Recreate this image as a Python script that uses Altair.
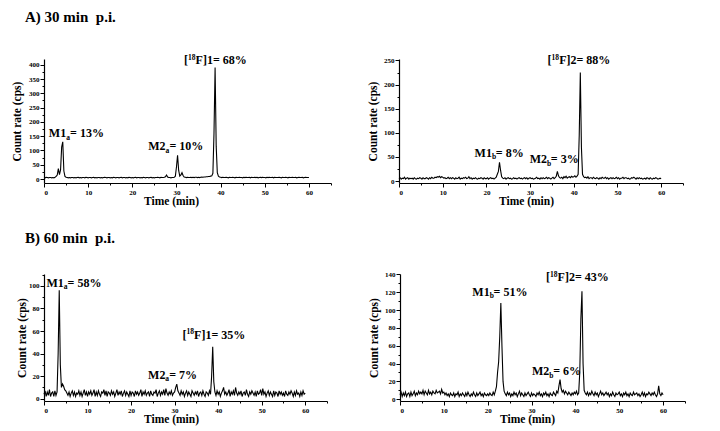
import altair as alt
import pandas as pd

FONT = "Liberation Serif"

# sampling times of the radio-HPLC traces (one reading every 0.25 min, 0-60 min)
TIME = [i / 4 for i in range(241)]

# A) 30 min p.i. -- compound [18F]1 (count rate, cps)
A_LEFT = [
    5, 4, 6, 5,  4, 5, 5, 4,  5, 4, 6, 9,  14, 36, 15, 32,  112, 130, 28, 9,
    6, 5, 4, 5,  4, 5, 5, 4,  5, 4, 5, 6,  4, 5, 4, 5,  5, 4, 6, 5,
    4, 5, 5, 4,  5, 6, 4, 5,  4, 5, 5, 4,  5, 4, 5, 6,  5, 4, 5, 5,
    4, 5, 4, 6,  5, 4, 5, 5,  4, 5, 6, 4,  5, 5, 4, 5,  4, 6, 5, 4,
    5, 4, 5, 6,  4, 5, 5, 4,  5, 4, 6, 5,  4, 5, 5, 4,  5, 6, 4, 5,
    4, 5, 5, 6,  5, 4, 6, 5,  5, 6, 8, 14,  7, 5, 5, 4,  5, 5, 6, 10,
    42, 83, 30, 10,  14, 22, 12, 7,  6, 5, 6, 5,  5, 6, 5, 6,  5, 6, 6, 5,
    6, 5, 6, 7,  6, 7, 7, 8,  8, 9, 9, 10,  11, 20, 160, 390,  115, 22, 10, 7,
    6, 5, 6, 5,  5, 6, 5, 4,  6, 5, 5, 6,  5, 4, 6, 5,  5, 6, 5, 5,
    4, 6, 5, 6,  5, 5, 6, 4,  6, 5, 5, 6,  5, 6, 4, 5,  6, 5, 6, 5,
    5, 4, 6, 5,  6, 5, 5, 6,  4, 6, 5, 5,  5, 6, 5, 4,  6, 5, 5, 6,
    5, 4, 6, 5,  5, 6, 5, 5,  6, 4, 5, 6,  5, 5, 6, 4,  5, 6, 5, 5,
    5,
]
# A) 30 min p.i. -- compound [18F]2
A_RIGHT = [
    5, 7, 4, 6,  5, 8, 4, 6,  7, 4, 6, 5,  6, 4, 7, 5,  4, 6, 5, 7,
    6, 4, 7, 5,  5, 7, 6, 4,  7, 5, 8, 6,  6, 8, 7, 9,  8, 10, 7, 9,
    8, 6, 7, 5,  6, 8, 5, 7,  5, 7, 6, 4,  7, 5, 6, 8,  4, 6, 5, 7,
    6, 8, 5, 6,  9, 5, 7, 4,  6, 5, 7, 5,  4, 6, 5, 7,  6, 4, 7, 5,
    5, 7, 4, 6,  7, 5, 6, 4,  6, 8, 14, 20,  39, 22, 9, 6,  5, 7, 4, 6,
    7, 5, 6, 4,  5, 7, 5, 6,  4, 6, 7, 5,  6, 4, 6, 7,  5, 7, 4, 6,
    7, 5, 6, 4,  5, 6, 8, 5,  6, 4, 7, 5,  7, 5, 6, 8,  5, 7, 6, 4,
    6, 8, 5, 7,  10, 20, 11, 7,  6, 8, 5, 9,  7, 10, 6, 8,  9, 7, 10, 8,
    9, 11, 8, 10,  14, 95, 225, 70,  14, 9, 7, 8,  6, 9, 5, 7,  7, 5, 8, 6,
    5, 7, 6, 4,  7, 5, 8, 6,  6, 8, 5, 7,  4, 6, 7, 5,  7, 5, 6, 8,
    5, 7, 4, 6,  6, 8, 5, 7,  7, 5, 6, 4,  5, 7, 6, 8,  6, 4, 7, 5,
    7, 5, 6, 4,  5, 6, 4, 7,  6, 4, 7, 5,  4, 6, 5, 7,  6, 4, 5, 6,
    5,
]
# B) 60 min p.i. -- compound [18F]1
B_LEFT = [
    4, 7, 2, 6,  3, 8, 2, 5,  6, 2, 7, 3,  6, 40, 96, 30,  10, 13, 11, 8,
    7, 5, 3, 6,  2, 5, 7, 3,  6, 2, 5, 4,  7, 3, 6, 2,  5, 8, 3, 6,
    2, 6, 4, 7,  3, 5, 8, 2,  6, 3, 7, 4,  2, 6, 5, 8,  3, 7, 2, 6,
    5, 3, 7, 4,  6, 2, 5, 8,  3, 6, 4, 7,  2, 5, 7, 3,  6, 4, 2, 7,
    3, 6, 5, 2,  7, 4, 6, 3,  5, 8, 2, 6,  4, 7, 3, 5,  6, 2, 7, 4,
    3, 6, 5, 8,  2, 5, 7, 3,  6, 4, 8, 3,  9, 5, 3, 6,  4, 7, 3, 5,
    6, 10, 13, 7,  5, 3, 7, 4,  6, 2, 5, 7,  3, 6, 4, 2,  7, 5, 3, 6,
    4, 7, 2, 5,  6, 3, 7, 4,  2, 6, 5, 3,  7, 4, 20, 46,  15, 6, 3, 7,
    4, 6, 2, 5,  7, 10, 4, 6,  3, 5, 8, 2,  6, 4, 7, 3,  10, 5, 3, 6,
    4, 7, 2, 5,  6, 3, 8, 4,  2, 6, 4, 7,  5, 3, 6, 2,  7, 4, 5, 8,
    3, 9, 4, 6,  2, 5, 7, 3,  6, 4, 2, 7,  3, 6, 5, 2,  7, 4, 6, 3,
    5, 2, 7, 4,  3, 6, 4, 7,  5, 2, 6, 3,  7, 4, 5, 2,  6, 3, 7, 4,
    5,
]
# B) 60 min p.i. -- compound [18F]2
B_RIGHT = [
    5, 8, 3, 7,  4, 8, 3, 6,  7, 3, 8, 4,  6, 9, 4, 7,  5, 9, 6, 8,
    6, 10, 5, 9,  7, 5, 10, 6,  8, 5, 9, 7,  6, 10, 7, 8,  9, 6, 11, 7,
    8, 5, 7, 4,  6, 3, 7, 5,  4, 7, 3, 6,  5, 8, 3, 6,  4, 7, 5, 3,
    7, 4, 8, 5,  3, 6, 4, 8,  5, 3, 7, 4,  6, 8, 4, 6,  3, 7, 5, 4,
    6, 4, 7, 5,  4, 8, 5, 9,  14, 30, 42, 70,  108, 60, 20, 9,  6, 4, 8, 5,
    7, 3, 6, 4,  8, 5, 7, 3,  6, 9, 4, 7,  5, 3, 7, 4,  6, 8, 5, 3,
    7, 4, 6, 5,  3, 7, 5, 8,  4, 6, 3, 7,  5, 8, 4, 6,  3, 7, 5, 4,
    8, 6, 4, 9,  7, 15, 22, 12,  8, 10, 6, 9,  7, 5, 8, 6,  4, 7, 5, 8,
    6, 9, 5, 7,  30, 90, 121, 40,  10, 7, 5, 8,  4, 7, 5, 9,  6, 4, 8, 5,
    7, 3, 6, 9,  5, 7, 4, 6,  8, 5, 7, 3,  6, 4, 8, 5,  3, 7, 5, 6,
    8, 4, 6, 3,  7, 5, 8, 4,  6, 3, 7, 5,  4, 8, 5, 6,  7, 4, 6, 3,
    5, 8, 4, 7,  3, 6, 5, 8,  6, 4, 7, 5,  8, 5, 3, 6,  15, 6, 4, 7,
    5,
]

# peak labels: anchor (t, cps), text pieces and whether the small part is a subscript or superscript
ANN_A_LEFT = {"t": [1.1, 23.6, 31.7], "cps": [147, 101, 401],
              "pre": ["M1", "M2", "["], "script": ["a", "a", "18"],
              "post": ["= 13%", "= 10%", "F]1= 68%"], "kind": ["sub", "sub", "sup"]}
ANN_A_RIGHT = {"t": [17.3, 29.9, 34.0], "cps": [50, 36.6, 242],
               "pre": ["M1", "M2", "["], "script": ["b", "b", "18"],
               "post": ["= 8%", "= 3%", "F]2= 88%"], "kind": ["sub", "sub", "sup"]}
ANN_B_LEFT = {"t": [0.55, 23.9, 31.8], "cps": [99.4, 17.6, 53.3],
              "pre": ["M1", "M2", "["], "script": ["a", "a", "18"],
              "post": ["= 58%", "= 7%", "F]1= 35%"], "kind": ["sub", "sub", "sup"]}
ANN_B_RIGHT = {"t": [16.5, 30.1, 33.3], "cps": [115.9, 27, 132.6],
               "pre": ["M1", "M2", "["], "script": ["b", "b", "18"],
               "post": ["= 51%", "= 6%", "F]2= 43%"], "kind": ["sub", "sub", "sup"]}

X_TICKS = [0, 5, 10, 15, 20, 25, 30, 35, 40, 45, 50, 55, 60, 65]

FS = 12        # label font size
FS_S = 7.5     # script font size


def panel(values, ann, ydomain, yticks, ylabstep, width, height,
          title=None, title_offset=17, ytitle_x=-26):
    df = pd.DataFrame({"t": TIME, "cps": values})
    xaxis = alt.Axis(
        values=X_TICKS,
        labelExpr="datum.value % 10 === 0 && datum.value <= 60 ? datum.label : ''",
        tickSize={"condition": {"test": "datum.value % 10 === 0", "value": 4}, "value": 2},
        title="Time (min)", titleX=127, titleY=21, titleBaseline="alphabetic",
    )
    yaxis = alt.Axis(
        values=yticks,
        labelExpr=f"datum.value % {ylabstep} === 0 ? datum.label : ''",
        tickSize={"condition": {"test": f"datum.value % {ylabstep} === 0", "value": 4}, "value": 2},
        title="Count rate (cps)", titleX=ytitle_x, titleBaseline="middle",
    )
    x_enc = alt.X("t:Q", scale=alt.Scale(domain=[0, 65], nice=False, zero=False), axis=xaxis)
    y_enc = alt.Y("cps:Q", scale=alt.Scale(domain=ydomain, nice=False, zero=False), axis=yaxis)

    line = alt.Chart(df).mark_line(color="black", strokeWidth=1.1).encode(x=x_enc, y=y_enc)

    adf = pd.DataFrame(ann)
    base = alt.Chart(adf).encode(x=x_enc, y=y_enc)
    txt = dict(align="left", baseline="alphabetic", font=FONT, fontWeight="bold", color="black")
    sub = base.transform_filter("datum.kind == 'sub'")
    sup = base.transform_filter("datum.kind == 'sup'")
    layers = [
        line,
        sub.mark_text(fontSize=FS, **txt).encode(text="pre:N"),
        sub.mark_text(fontSize=FS_S, dx=17.3, dy=2.5, **txt).encode(text="script:N"),
        sub.mark_text(fontSize=FS, dx=21.2, **txt).encode(text="post:N"),
        sup.mark_text(fontSize=FS, **txt).encode(text="pre:N"),
        sup.mark_text(fontSize=FS_S, dx=4.0, dy=-4.5, **txt).encode(text="script:N"),
        sup.mark_text(fontSize=FS, dx=11.6, **txt).encode(text="post:N"),
    ]
    ch = alt.layer(*layers).properties(width=width, height=height)
    if title:
        ch = ch.properties(title=alt.TitleParams(
            title, anchor="start", frame="group", dx=-19, offset=title_offset,
            baseline="alphabetic",
            font=FONT, fontSize=15, fontWeight="bold", color="black"))
    return ch


a_left = panel(A_LEFT, ANN_A_LEFT, [-14, 420], list(range(0, 401, 25)), 50, 287, 124,
               title="A) 30 min\u00a0 p.i.", title_offset=17, ytitle_x=-27)
a_right = panel(A_RIGHT, ANN_A_RIGHT, [-4, 253], list(range(0, 251, 25)), 50, 284, 124)
b_left = panel(B_LEFT, ANN_B_LEFT, [-2, 110.5], list(range(0, 111, 10)), 20, 283, 127,
               title="B) 60 min\u00a0 p.i.", title_offset=16, ytitle_x=-22)
b_right = panel(B_RIGHT, ANN_B_RIGHT, [-2, 140.5], list(range(0, 141, 10)), 20, 285, 127)

row1 = alt.hconcat(a_left, a_right, spacing=68, bounds="flush")
row2 = alt.hconcat(b_left, b_right, spacing=73, bounds="flush")

chart = alt.vconcat(row1, row2, spacing=215, bounds="flush").configure_view(
    stroke="transparent"
).configure_axis(
    grid=False,
    domainColor="black", domainWidth=1.2,
    tickColor="black", tickWidth=1,
    labelFont=FONT, labelFontWeight="bold", labelFontSize=7, labelColor="black", labelPadding=1,
    titleFont=FONT, titleFontWeight="bold", titleFontSize=11.5, titleColor="black",
).properties(background="white", padding={"left": 2, "top": 1, "right": 5, "bottom": 5})

chart.save("out.html", embed_options={"renderer": "svg", "actions": False})
